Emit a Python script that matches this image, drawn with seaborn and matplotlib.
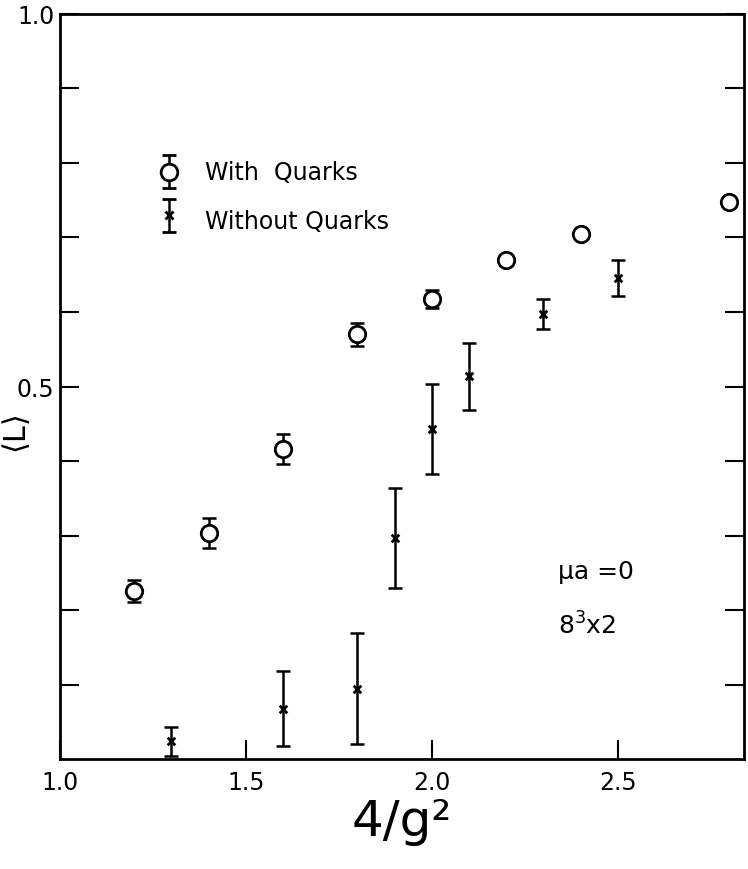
import numpy as np
import pandas as pd
import matplotlib
matplotlib.use("Agg")
import matplotlib.pyplot as plt
import seaborn as sns

# With quarks
wq_x = [1.2, 1.4, 1.6, 1.8, 2.0, 2.2, 2.4, 2.8]
wq_y = [0.226, 0.304, 0.416, 0.570, 0.618, 0.670, 0.705, 0.747]
wq_err = [0.015, 0.020, 0.020, 0.015, 0.012, 0.0, 0.0, 0.0]

# Without quarks
nq_x = [1.3, 1.6, 1.8, 1.9, 2.0, 2.1, 2.3, 2.5]
nq_y = [0.024, 0.068, 0.095, 0.297, 0.443, 0.514, 0.597, 0.646]
nq_err = [0.020, 0.050, 0.075, 0.067, 0.060, 0.045, 0.020, 0.024]

x_ticks = [1.0, 1.5, 2.0, 2.5]
x_tick_labels = ["1.0", "1.5", "2.0", "2.5"]
y_ticks = [0.5, 1.0]
y_tick_labels = ["0.5", "1.0"]

sns.set_theme(style="white")
plt.rcParams['font.family'] = ['DejaVu Sans']
plt.rcParams['text.color'] = 'black'
plt.rcParams['axes.labelcolor'] = 'black'
plt.rcParams['xtick.color'] = 'black'
plt.rcParams['ytick.color'] = 'black'

fig = plt.figure(figsize=(7.48, 8.70), dpi=100)
ax = fig.add_axes([0.08, 0.126, 0.915, 0.857])

df_w = pd.DataFrame({"x": wq_x, "y": wq_y})
df_n = pd.DataFrame({"x": nq_x, "y": nq_y})

for xs, ys, es in [(wq_x, wq_y, wq_err), (nq_x, nq_y, nq_err)]:
    xe = [x for x, e in zip(xs, es) if e > 0]
    ye = [y for y, e in zip(ys, es) if e > 0]
    ee = [e for e in es if e > 0]
    ax.errorbar(xe, ye, yerr=ee, fmt='none', ecolor='black', elinewidth=1.8,
                capsize=5, capthick=1.8, zorder=2)

sns.scatterplot(data=df_w, x="x", y="y", marker="o", s=140, facecolor="white",
                edgecolor="black", linewidth=2.0, ax=ax, zorder=3)
sns.scatterplot(data=df_n, x="x", y="y", marker="x", s=30, color="black",
                linewidth=2.0, ax=ax, zorder=3)

ax.set_xlim(1.0, 2.84)
ax.set_ylim(0.0, 1.0)

ax.set_xticks(x_ticks)
ax.set_xticklabels(x_tick_labels, fontsize=17, color='black')
ax.set_yticks(np.arange(0.1, 1.0, 0.1), minor=True)
ax.set_yticks(y_ticks)
ax.set_yticklabels(y_tick_labels, fontsize=17, color='black')
ax.tick_params(axis='both', which='both', direction='in', length=14, width=1.5,
               right=True, top=False, left=True, bottom=True, colors='black')
ax.tick_params(axis='y', which='major', pad=4)
ax.tick_params(axis='x', which='major', pad=8)

for sp in ax.spines.values():
    sp.set_color('black')
    sp.set_linewidth(2.0)

ax.set_xlabel("4/g²", fontsize=36, labelpad=2, color='black')
ax.set_ylabel("")
fig.text(0.0, 0.505, "⟨L⟩", rotation=90, fontsize=22, ha='left', va='center',
         color='black')

# Legend
lx, ly1, ly2 = 0.16, 0.788, 0.722
ax.errorbar([lx], [ly1], yerr=[0.022], transform=ax.transAxes, fmt='o', ms=12,
            mfc='white', mec='black', mew=2.0, ecolor='black', elinewidth=1.8,
            capsize=5, capthick=1.8, clip_on=False)
ax.errorbar([lx], [ly2 + 0.008], yerr=[0.022], transform=ax.transAxes, fmt='x', ms=6,
            mec='black', mew=2.0, ecolor='black', elinewidth=1.8,
            capsize=5, capthick=1.8, clip_on=False)
ax.text(0.212, ly1, "With  Quarks", transform=ax.transAxes, fontsize=17, va='center')
ax.text(0.212, ly2, "Without Quarks", transform=ax.transAxes, fontsize=17, va='center')

ax.text(0.728, 0.253, "μa =0", transform=ax.transAxes, fontsize=18, va='center')
ax.text(0.728, 0.18, "8$^3$x2", transform=ax.transAxes, fontsize=18, va='center')

fig.savefig("out.png", dpi=100)
